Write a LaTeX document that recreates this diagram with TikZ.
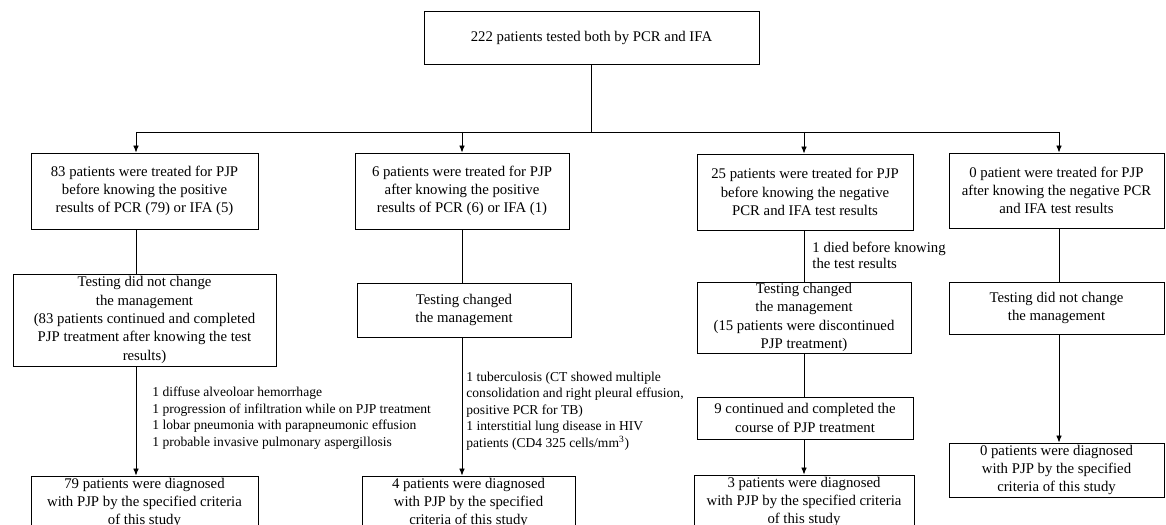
\documentclass[tikz,border=0pt]{standalone}
\usepackage{fontspec}
\setmainfont{Liberation Serif}
\usetikzlibrary{arrows.meta}
\tikzset{wh/.style 2 args={minimum width=#1*0.025cm, minimum height=#2*0.025cm}}
\begin{document}
\begin{tikzpicture}[x=0.025cm,y=-0.025cm]
\tikzstyle{box} = [draw,line width=0.6pt,text centered,align=center,inner sep=0pt,font=\fontsize{10.5}{13}\selectfont]
\tikzstyle{note} = [align=left,anchor=west,inner sep=0pt,font=\fontsize{9.65}{11.8}\selectfont]
\tikzstyle{link} = [line width=0.6pt]
\tikzstyle{arr} = [link,-{Latex[length=5pt,width=4pt]}]
\useasboundingbox (0,0) rectangle (1166,525);
\clip (0,0) rectangle (1166,525);
	\node[box,wh={335}{53}] (top) at (591.5,37.5) {222 patients tested both by PCR and IFA};
	\node[box,wh={227}{76}] (c1a) at (144.5,191) {83 patients were treated for PJP\\before knowing the positive\\results of PCR (79) or IFA (5)};
	\node[box,wh={263}{92}] (c1b) at (144.5,320) {Testing did not change\\the management\\(83 patients continued and completed\\PJP treatment after knowing the test\\results)};
	\node[box,wh={227}{54}] (c1d) at (144.5,503) {79 patients were diagnosed\\with PJP by the specified criteria\\of this study};
	\node[box,wh={214}{76}] (c2a) at (462,191) {6 patients were treated for PJP\\after knowing the positive\\results of PCR (6) or IFA (1)};
	\node[box,wh={214}{54}] (c2b) at (464,310) {Testing changed\\the management};
	\node[box,wh={213}{54}] (c2d) at (468.5,503) {4 patients were diagnosed\\with PJP by the specified\\criteria of this study};
	\node[box,wh={216}{76}] (c3a) at (805,192) {25 patients were treated for PJP\\before knowing the negative\\PCR and IFA test results};
	\node[box,wh={214}{71}] (c3b) at (804,317.5) {Testing changed\\the management\\(15 patients were discontinued\\PJP treatment)};
	\node[box,wh={216}{42}] (c3c) at (805,418) {9 continued and completed the\\course of PJP treatment};
	\node[box,wh={220}{54}] (c3d) at (804,502) {3 patients were diagnosed\\with PJP by the specified criteria\\of this study};
	\node[box,wh={215}{75}] (c4a) at (1056.5,190.5) {0 patient were treated for PJP\\after knowing the negative PCR\\and IFA test results};
	\node[box,wh={215}{52}] (c4b) at (1056.5,308) {Testing did not change\\the management};
	\node[box,wh={215}{54}] (c4d) at (1056.5,470) {0 patients were diagnosed\\with PJP by the specified\\criteria of this study};
	\coordinate (k1) at (136,132);
	\coordinate (k2) at (462,132);
	\coordinate (k3) at (804,132);
	\coordinate (k4) at (1059,132);
	\draw[link] (top.south) -- (top.south |- k1);
	\draw[link] (k1) -- (k4);
	\foreach \k/\c in {k1/c1a,k2/c2a,k3/c3a,k4/c4a}
		\draw[arr] (\k) -- (\k |- \c.north);
	\draw[link] (c1a.south -| k1) -- (c1b.north -| k1);
	\draw[arr] (c1b.south -| k1) -- (c1d.north -| k1)
	node (n1) [note] at (152,418) {1 diffuse alveoloar hemorrhage\\1 progression of infiltration while on PJP treatment\\1 lobar pneumonia with parapneumonic effusion\\1 probable invasive pulmonary aspergillosis};
	\draw[link] (c2a.south -| k2) -- (c2b.north -| k2);
	\draw[arr] (c2b.south -| k2) -- (c2d.north -| k2)
	node (n2) [note] at (466,411) {1 tuberculosis (CT showed multiple\\consolidation and right pleural effusion,\\positive PCR for TB)\\1 interstitial lung disease in HIV\\patients (CD4 325 cells/mm\textsuperscript{3})};
	\draw[link] (c3a.south -| k3) -- (c3b.north -| k3)
	node (n3) [note,font=\fontsize{10.5}{11.5}\selectfont] at (812,255) {1 died before knowing\\the test results};
	\draw[link] (c3b.south -| k3) -- (c3c.north -| k3);
	\draw[arr] (c3c.south -| k3) -- (c3d.north -| k3);
	\draw[link] (c4a.south -| k4) -- (c4b.north -| k4);
	\draw[arr] (c4b.south -| k4) -- (c4d.north -| k4);
\end{tikzpicture}
\end{document}
